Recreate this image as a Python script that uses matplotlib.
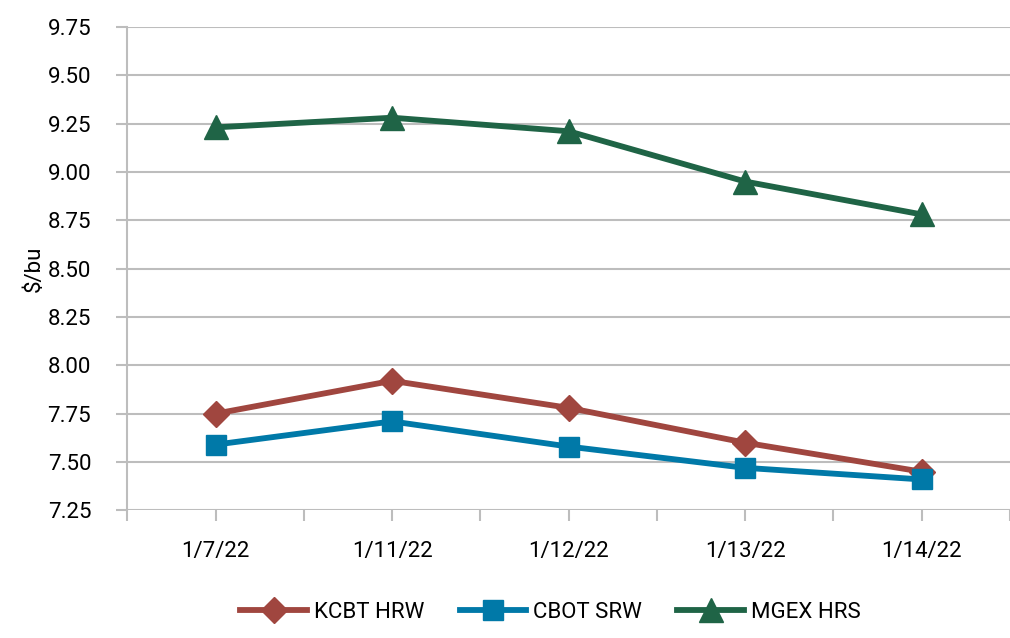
import numpy as np
import matplotlib
matplotlib.use("Agg")
import matplotlib.pyplot as plt
from matplotlib.ticker import MultipleLocator, FixedLocator

plt.rcParams['font.family'] = ['Roboto', 'DejaVu Sans']

# data
fechas = ['1/7/22', '1/11/22', '1/12/22', '1/13/22', '1/14/22']
kcbt_hrw = [7.75, 7.92, 7.78, 7.60, 7.45]
cbot_srw = [7.59, 7.71, 7.58, 7.47, 7.41]
mgex_hrs = [9.23, 9.28, 9.21, 8.95, 8.78]

rojo = '#A0463F'
azul = '#0079A8'
verde = '#1F6446'
gris = '#BDBDBD'

fig = plt.figure(figsize=(10.1, 6.38), dpi=100)
ax = fig.add_axes([0.126, 0.2, 0.874, 0.758])

x = np.arange(len(fechas))
ax.plot(x, kcbt_hrw, color=rojo, lw=4.2, marker='D', ms=13, label='KCBT HRW')
ax.plot(x, cbot_srw, color=azul, lw=4.2, marker='s', ms=15, label='CBOT SRW')
ax.plot(x, mgex_hrs, color=verde, lw=4.2, marker='^', ms=17, label='MGEX HRS')

ax.set_ylim(7.25, 9.75)
ax.set_xlim(-0.5, len(fechas) - 0.5)
ax.yaxis.set_major_locator(MultipleLocator(0.25))
ax.yaxis.set_major_formatter(matplotlib.ticker.FormatStrFormatter('%.2f'))
ax.set_xticks(x)
ax.set_xticklabels(fechas)
ax.xaxis.set_minor_locator(FixedLocator(np.arange(-0.5, len(fechas), 1.0)))

ax.grid(axis='y', color=gris, lw=1.5)
ax.set_axisbelow(True)
for s in ['top', 'right', 'bottom']:
    ax.spines[s].set_visible(False)
ax.spines['left'].set_color(gris)
ax.spines['left'].set_linewidth(1.5)

ax.tick_params(axis='y', length=8, width=1.5, color=gris, labelsize=16, pad=18)
ax.tick_params(axis='x', which='both', length=8, width=1.5, color=gris, labelsize=16, pad=14)
ax.set_ylabel('$/bu', fontsize=16, labelpad=2)

fig.legend(loc='center', bbox_to_anchor=(0.545, 0.04), ncol=3, frameon=False,
           fontsize=16, handlelength=3, columnspacing=1.6, handletextpad=0.3)

fig.savefig('out.png', dpi=100)
